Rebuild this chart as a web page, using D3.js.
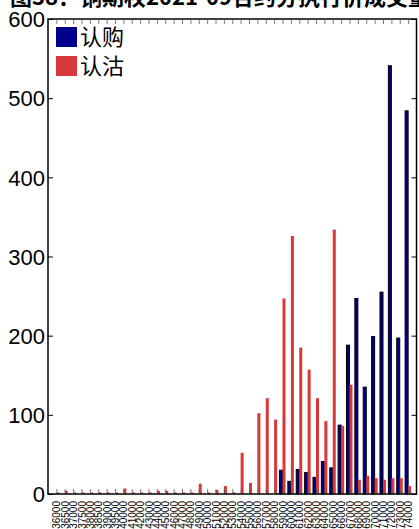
<!DOCTYPE html>
<html><head><meta charset="utf-8">
<script src="https://cdn.jsdelivr.net/npm/d3@7/dist/d3.min.js"></script>
<style>html,body{margin:0;padding:0;background:#fff;overflow:hidden}</style>
</head><body>
<script>
// ---- data ----
const strikes = ["36000","36500","37000","37500","38000","38500","39000","39500",
  "40000","41000","42000","43000","44000","45000","46000","47000","48000","49000",
  "50000","51000","52000","53000","54000","55000","56000","57000","58000","59000",
  "60000","61000","62000","63000","64000","65000","66000","67000","68000","69000",
  "70000","71000","72000","73000","74000"];
const callVol = [0,0,0,0,0,0,0,0,0,0,0,0,0,0,0,0,0,0,0,0,0,0,0,0,0,0,0,
  30,16,31,27,21,41,33,87,188,247,135,199,255,541,197,484];
const putVol = [2,4,2,2,2,2,2,2,7,2,2,2,4,4,2,2,2,13,2,5,10,2,52,14,102,121,94,
  247,326,185,157,121,92,334,86,138,18,23,20,18,20,20,10];
const yTicks = [0,100,200,300,400,500,600];
const seriesNames = ["认购","认沽"];
const colors = ["#00008b","#d7393a"];
const title = "图38：铜期权2021-09合约分执行价成交量分布";

// ---- layout ----
const W = 419, H = 529;
const L = 48, R = 416.5, T = 19, B = 494;
const svg = d3.select("body").append("svg").attr("width", W).attr("height", H)
  .style("font-family", "'Liberation Sans', Arial, sans-serif");

const x = d3.scaleLinear().domain([-1, strikes.length]).range([L, R]);
const y = d3.scaleLinear().domain([0, 600]).range([B, T]);
const band = x(1) - x(0);
const bw = band * 0.36;

// title (clipped at top as in reference)
svg.append("text").attr("x", 10).attr("y", 5)
  .attr("font-family", "'Noto Sans CJK SC', sans-serif").attr("font-weight", "bold")
  .attr("font-size", 22).attr("fill", "#000").text(title);

// bars
const g = svg.append("g");
g.selectAll("rect.call").data(callVol).join("rect").attr("class", "call")
  .attr("x", (d, i) => x(i) - bw).attr("width", bw)
  .attr("y", d => y(d)).attr("height", d => y(0) - y(d))
  .attr("fill", colors[0]).attr("stroke", d => d > 0 ? "#000" : "none").attr("stroke-width", 1);
g.selectAll("rect.put").data(putVol).join("rect").attr("class", "put")
  .attr("x", (d, i) => x(i)).attr("width", bw)
  .attr("y", d => y(d)).attr("height", d => y(0) - y(d))
  .attr("fill", colors[1]);

// frame
svg.append("rect").attr("x", L).attr("y", T).attr("width", R - L).attr("height", B - T)
  .attr("fill", "none").attr("stroke", "#000").attr("stroke-width", 1.5);

// x ticks (bottom & top, inward)
const idx = d3.range(strikes.length);
const xb = d3.axisBottom(x).tickValues(idx).tickSizeInner(-5).tickSizeOuter(0)
  .tickFormat(i => strikes[i]);
const gx = svg.append("g").attr("transform", `translate(0,${B})`).call(xb);
gx.select(".domain").remove();
gx.selectAll(".tick line").attr("stroke", "#555").attr("stroke-width", 0.8);
gx.selectAll(".tick text").attr("font-size", 10).attr("fill", "#000")
  .attr("text-anchor", "end").attr("transform", "translate(0,7) rotate(-90)")
  .attr("x", 0).attr("y", 0).attr("dy", "0.35em");

const xt = d3.axisTop(x).tickValues(idx).tickSizeInner(-5).tickSizeOuter(0).tickFormat("");
const gxt = svg.append("g").attr("transform", `translate(0,${T})`).call(xt);
gxt.select(".domain").remove();
gxt.selectAll(".tick line").attr("stroke", "#555").attr("stroke-width", 0.8);

// y ticks
const yl = d3.axisLeft(y).tickValues(yTicks).tickSizeInner(-5).tickSizeOuter(0).tickPadding(3);
const gy = svg.append("g").attr("transform", `translate(${L},0)`).call(yl);
gy.select(".domain").remove();
gy.selectAll(".tick line").attr("stroke", "#000");
gy.selectAll(".tick text").attr("font-size", 22).attr("fill", "#000")
  .attr("x", -3).attr("dy", "0.35em");

const yr = d3.axisRight(y).tickValues(yTicks).tickSizeInner(-5).tickSizeOuter(0).tickFormat("");
const gyr = svg.append("g").attr("transform", `translate(${R},0)`).call(yr);
gyr.select(".domain").remove();
gyr.selectAll(".tick line").attr("stroke", "#000");

// legend
const leg = svg.append("g");
seriesNames.forEach((n, k) => {
  const yy = 27 + k * 29;
  leg.append("rect").attr("x", 56).attr("y", yy).attr("width", 21).attr("height", 20)
    .attr("fill", colors[k]);
  leg.append("text").attr("x", 80).attr("y", yy + 18)
    .attr("font-family", "'Noto Sans CJK SC', sans-serif")
    .attr("font-size", 22).attr("fill", "#000").text(n);
});
</script>
</body></html>
